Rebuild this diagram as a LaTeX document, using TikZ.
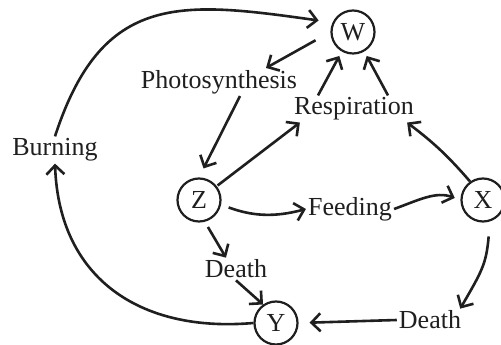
\documentclass[tikz,border=0pt]{standalone}
\usepackage{fontspec}
\setmainfont{Liberation Serif}
\usetikzlibrary{arrows.meta}

\begin{document}
\begin{tikzpicture}[x=1pt, y=1pt, font=\fontsize{26}{30}\selectfont]

\colorlet{cInk}{black!88}

\tikzset{
  pool/.style = {circle, draw=cInk, line width=2.2pt, minimum size=43pt, inner sep=0pt, text=cInk},
  flow/.style = {inner sep=2pt, text=cInk},
  link/.style = {cInk, line width=2.6pt, -{Straight Barb[length=9pt, width=18pt]}},
}

\path[use as bounding box] (0,0) rectangle (501,345);

%% ---------- the pools ----------
\node[pool] (w) at (353,313) {W};
\node[pool] (z) at (199,145) {Z};
\node[pool] (x) at (483,145) {X};
\node[pool] (y) at (276,22)  {Y};

%% ---------- the processes ----------
\node[flow] (photo) at (219,263) {Photosynthesis};
\node[flow] (resp)  at (354,236) {Respiration};
\node[flow] (burn)  at (55,195)  {Burning};
\node[flow] (feed)  at (350,136) {Feeding};
\node[flow] (dthz)  at (236,76)  {Death};
\node[flow] (dthx)  at (430,25)  {Death};

%% ---------- carbon out of the air ----------
\draw[link, shorten <=17pt] (w.180) -- ([xshift=47pt]photo.north);
\draw[link, shorten >=10pt] ([xshift=21pt]photo.south) -- (z.north);

%% ---------- carbon back to the air ----------
\draw[link, shorten <=1pt] (z.38) -- ([xshift=8pt]resp.south west);
\draw[link] (x.125) to[bend right=6] ([xshift=-9pt]resp.south east);
\draw[link, shorten >=5pt] ([xshift=-36pt]resp.north) -- (w.240);
\draw[link, shorten >=5pt] ([xshift=34pt]resp.north) -- (w.300);

%% ---------- food chain ----------
\draw[link, shorten <=8pt] (z.-12) to[out=-20, in=195] (feed.west);
\draw[link, shorten >=6pt] (feed.east) to[out=20, in=160] (x.west);

%% ---------- death and burning ----------
\draw[link, shorten <=6pt] (z.-75) -- ([xshift=-10pt]dthz.north);
\draw[link] (dthz.south) -- (y.125);
\draw[link, shorten <=15pt] (x.-72) to[out=-95, in=60, looseness=1.2] ([xshift=-3pt]dthx.north east);
\draw[link, shorten >=11pt] (dthx.west) -- (y.east);
\draw[link] (y.west) to[out=185, in=-88, looseness=1.15] (burn.south);
\draw[link, shorten >=14pt] (burn.north) to[out=72, in=172, looseness=1.3] (w.155);

\end{tikzpicture}
\end{document}
